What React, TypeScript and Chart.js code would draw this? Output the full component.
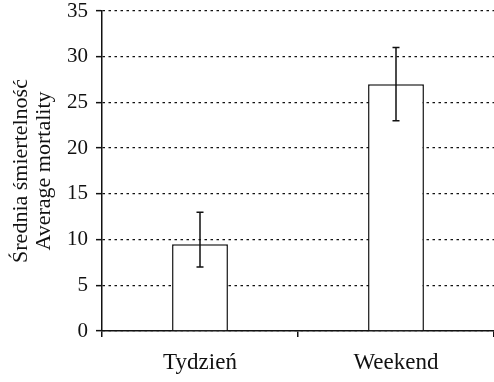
import React, { useEffect, useRef } from "react";
import { Chart, registerables } from "chart.js";

Chart.register(...registerables);

const categories = ["Tydzień", "Weekend"];
const meanValues = [9.5, 27];
const errLow = [7, 23];
const errHigh = [13, 31];
const yTitle = ["Średnia śmiertelność", "Average mortality"];

const FONT = "'Liberation Serif', 'Times New Roman', serif";

const errorBarPlugin = {
  id: "errorBars",
  afterDatasetsDraw(chart: any) {
    const ctx = chart.ctx;
    const meta = chart.getDatasetMeta(0);
    const y = chart.scales.y;
    ctx.save();
    ctx.strokeStyle = "#111";
    ctx.lineWidth = 1.5;
    meta.data.forEach((bar: any, i: number) => {
      const x = bar.x;
      const yt = y.getPixelForValue(errHigh[i]);
      const yb = y.getPixelForValue(errLow[i]);
      ctx.beginPath();
      ctx.moveTo(x, yt);
      ctx.lineTo(x, yb);
      ctx.moveTo(x - 3.5, yt);
      ctx.lineTo(x + 3.5, yt);
      ctx.moveTo(x - 3.5, yb);
      ctx.lineTo(x + 3.5, yb);
      ctx.stroke();
    });
    ctx.restore();
  },
};

export default function App() {
  const ref = useRef<HTMLCanvasElement>(null);
  useEffect(() => {
    if (!ref.current) return;
    const chart = new Chart(ref.current, {
      type: "bar",
      data: {
        labels: categories,
        datasets: [
          {
            data: meanValues,
            backgroundColor: "#ffffff",
            borderColor: "#111",
            borderWidth: 1.5,
            barPercentage: 0.285,
            categoryPercentage: 1,
          },
        ],
      },
      options: {
        animation: false,
        responsive: true,
        maintainAspectRatio: false,
        layout: { padding: { top: 0, right: 0, left: 0, bottom: 0 } },
        plugins: { legend: { display: false }, tooltip: { enabled: false } },
        scales: {
          x: {
            offset: true,
            grid: {
              offset: true,
              drawOnChartArea: false,
              drawTicks: true,
              tickLength: 6,
              color: "#111",
              lineWidth: 1.5,
            },
            border: { display: true, color: "#111", width: 1.5 },
            ticks: {
              color: "#111",
              padding: 12,
              font: { family: FONT, size: 23 },
            },
            afterFit: (s: any) => {
              s.height = 51;
            },
          },
          y: {
            min: 0,
            max: 35,
            ticks: {
              stepSize: 5,
              color: "#111",
              padding: 8,
              font: { family: FONT, size: 21, lineHeight: 1.05 },
            },
            grid: {
              color: "#111",
              lineWidth: 1.3,
              tickBorderDash: [],
              tickLength: 6,
              tickWidth: 1.5,
              drawTicks: true,
            },
            border: { display: true, color: "#111", width: 1.5, dash: [2.5, 3.5] },
            title: {
              display: true,
              text: yTitle,
              color: "#111",
              font: { family: FONT, size: 22, lineHeight: 1.05 },
              padding: { top: 9.5, bottom: 0 },
            },
            afterFit: (s: any) => {
              s.width = 102;
              s.paddingTop = 11;
              s.paddingBottom = 0;
            },
          },
        },
      },
      plugins: [errorBarPlugin],
    });
    return () => chart.destroy();
  }, []);
  return (
    <div style={{ position: "absolute", left: 0, top: 0, width: 494, height: 382, background: "#fff" }}>
      <canvas ref={ref} />
    </div>
  );
}
